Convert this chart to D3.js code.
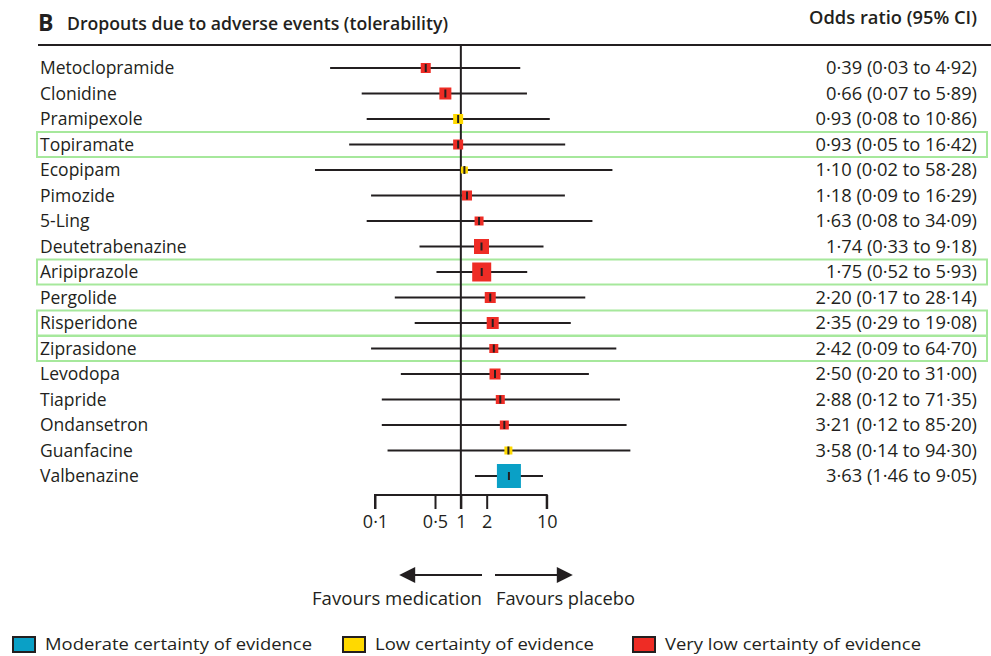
<!DOCTYPE html>
<html><head><meta charset="utf-8">
<script src="https://cdn.jsdelivr.net/npm/d3@7"></script>
<style>
body{margin:0;background:#fff;}
text{font-family:"Open Sans","Noto Sans",sans-serif;fill:#231f20;}
</style></head>
<body><svg id="chart" width="991" height="656"></svg>
<script>
const drugs = ["Metoclopramide","Clonidine","Pramipexole","Topiramate","Ecopipam","Pimozide","5-Ling","Deutetrabenazine","Aripiprazole","Pergolide","Risperidone","Ziprasidone","Levodopa","Tiapride","Ondansetron","Guanfacine","Valbenazine"];
const orValues = [0.39,0.66,0.93,0.93,1.10,1.18,1.63,1.74,1.75,2.20,2.35,2.42,2.50,2.88,3.21,3.58,3.63];
const ciLow  = [0.03,0.07,0.08,0.05,0.02,0.09,0.08,0.33,0.52,0.17,0.29,0.09,0.20,0.12,0.12,0.14,1.46];
const ciHigh = [4.92,5.89,10.86,16.42,58.28,16.29,34.09,9.18,5.93,28.14,19.08,64.70,31.00,71.35,85.20,94.30,9.05];
const weights = [10,12,10,10,7,10,9,15,19,11,12,9,11,9,9,8,24];
const certainty = ["Very low","Very low","Low","Very low","Low","Very low","Very low","Very low","Very low","Very low","Very low","Very low","Very low","Very low","Very low","Low","Moderate"];
const highlighted = ["Topiramate","Aripiprazole","Risperidone","Ziprasidone"];
const tickValues = [0.1,0.5,1,2,10];
const tickLabels = ["0·1","0·5","1","2","10"];
const legendLabels = ["Moderate","Low","Very low"];
const legendTexts = ["Moderate certainty of evidence","Low certainty of evidence","Very low certainty of evidence"];
const colors = {"Moderate":"#0aa0c6","Low":"#ffd900","Very low":"#ee2c25"};

const fmt = v => v.toFixed(2).replace(".", "·");
const svg = d3.select("#chart");
const x = d3.scaleLog().domain([0.1,10]).range([375,546.7]);
const y = d3.scalePoint().domain(drugs).range([68,476]);
const ink = "#231f20";
const fs = 17.5;

// title
svg.append("text").attr("x",38).attr("y",31).attr("font-size",23).attr("font-weight",700).text("B");
svg.append("text").attr("x",67).attr("y",30).attr("font-size",17.5).attr("font-weight",600)
  .attr("textLength",381).attr("lengthAdjust","spacingAndGlyphs").text("Dropouts due to adverse events (tolerability)");
svg.append("text").attr("x",977).attr("y",24).attr("text-anchor","end").attr("font-size",17.5).attr("font-weight",600)
  .attr("textLength",168).attr("lengthAdjust","spacingAndGlyphs").text("Odds ratio (95% CI)");
svg.append("line").attr("x1",38).attr("x2",991).attr("y1",45).attr("y2",45).attr("stroke",ink).attr("stroke-width",2);

// highlight boxes
svg.selectAll("rect.hl").data(highlighted).join("rect").attr("class","hl")
  .attr("x",37).attr("width",950).attr("y",d=>y(d)-12.5).attr("height",25)
  .attr("fill","none").attr("stroke","#a6e89c").attr("stroke-width",2);

// reference line
svg.append("line").attr("x1",x(1)).attr("x2",x(1)).attr("y1",45).attr("y2",509).attr("stroke",ink).attr("stroke-width",2);

const rows = drugs.map((d,i)=>({name:d,or:orValues[i],lo:ciLow[i],hi:ciHigh[i],w:weights[i],c:certainty[i]}));
const g = svg.selectAll("g.row").data(rows).join("g").attr("class","row");
g.append("line").attr("x1",d=>x(d.lo)).attr("x2",d=>x(d.hi)).attr("y1",d=>y(d.name)).attr("y2",d=>y(d.name))
  .attr("stroke",ink).attr("stroke-width",2);
g.append("rect").attr("x",d=>x(d.or)-d.w/2).attr("y",d=>y(d.name)-d.w/2).attr("width",d=>d.w).attr("height",d=>d.w)
  .attr("fill",d=>colors[d.c]);
g.append("line").attr("x1",d=>x(d.or)).attr("x2",d=>x(d.or)).attr("y1",d=>y(d.name)-4).attr("y2",d=>y(d.name)+4)
  .attr("stroke",ink).attr("stroke-width",2);
g.append("text").attr("x",40).attr("y",d=>y(d.name)+6).attr("font-size",fs).text(d=>d.name);
g.append("text").attr("x",977).attr("y",d=>y(d.name)+6).attr("font-size",18.3).attr("text-anchor","end")
  .text(d=>`${fmt(d.or)} (${fmt(d.lo)} to ${fmt(d.hi)})`);

// axis
const axis = d3.axisBottom(x).tickValues(tickValues).tickFormat((d,i)=>tickLabels[i]).tickSize(14).tickPadding(6);
const ax = svg.append("g").attr("transform","translate(0,495)").call(axis);
ax.select(".domain").attr("stroke",ink).attr("stroke-width",2).attr("d",`M${x(0.1)},14V0H${x(10)}V14`);
ax.selectAll(".tick line").attr("stroke",ink).attr("stroke-width",2);
ax.selectAll(".tick text").attr("font-family","'Open Sans',sans-serif").attr("font-size",18).attr("fill",ink);

// arrows
svg.append("defs").append("marker").attr("id","ah").attr("viewBox","0 0 10 10").attr("refX",2).attr("refY",5)
  .attr("markerWidth",8.5).attr("markerHeight",8).attr("markerUnits","strokeWidth").attr("orient","auto-start-reverse")
  .append("path").attr("d","M0,0L10,5L0,10Z").attr("fill",ink);
svg.append("line").attr("x1",482).attr("x2",412).attr("y1",575).attr("y2",575).attr("stroke",ink).attr("stroke-width",2).attr("marker-end","url(#ah)");
svg.append("line").attr("x1",495).attr("x2",560).attr("y1",575).attr("y2",575).attr("stroke",ink).attr("stroke-width",2).attr("marker-end","url(#ah)");
svg.append("text").attr("x",482).attr("y",605).attr("text-anchor","end").attr("font-size",fs)
  .attr("textLength",170).attr("lengthAdjust","spacingAndGlyphs").text("Favours medication");
svg.append("text").attr("x",496).attr("y",605).attr("font-size",fs)
  .attr("textLength",139).attr("lengthAdjust","spacingAndGlyphs").text("Favours placebo");

// legend
const legX = [12,342,632], legW=[267,219,256];
const lg = svg.selectAll("g.leg").data(legendLabels).join("g").attr("class","leg");
lg.append("rect").attr("x",(d,i)=>legX[i]+1).attr("y",637).attr("width",22).attr("height",15)
  .attr("fill",d=>colors[d]).attr("stroke",ink).attr("stroke-width",2);
lg.append("text").attr("x",(d,i)=>legX[i]+33).attr("y",650).attr("font-size",17)
  .attr("textLength",(d,i)=>legW[i]).attr("lengthAdjust","spacingAndGlyphs").text((d,i)=>legendTexts[i]);
</script></body></html>
